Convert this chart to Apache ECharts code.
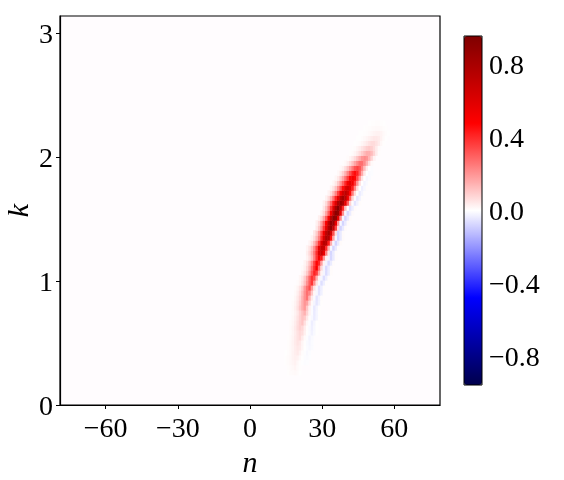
<!DOCTYPE html>
<html>
<head>
<meta charset="utf-8">
<style>
  html, body { margin: 0; padding: 0; background: #fff; }
  #main { width: 564px; height: 480px; }
</style>
<script src="https://cdn.jsdelivr.net/npm/echarts@6/dist/echarts.min.js"></script>
</head>
<body>
<div id="main"></div>
<script>
// tick labels
var nTicks = [-60, -30, 0, 30, 60];
var kTicks = [0, 1, 2, 3];
var barTicks = [-0.8, -0.4, 0, 0.4, 0.8];

// seismic colour map
var seismic = ['#00004c', '#0000ff', '#ffffff', '#ff0000', '#7f0000'];

// axis extents
var nMin = -79;
var nMax = 79;
var kMax = 3.14;
var barMax = 0.956;
var rowCount = 78;

// first row (counted from k=0) that has a value
var firstRow = 6;
// n of the first cell in each row
var rowStart = [
  16, 16, 15, 15, 15, 16, 16, 16, 17, 17,
  17, 18, 18, 18, 18, 18, 19, 19, 20, 21,
  22, 22, 23, 24, 24, 24, 25, 26, 27, 28,
  28, 29, 30, 31, 31, 32, 33, 34, 35, 36,
  37, 38, 39, 41, 42, 43, 44, 45, 46, 48,
  50
];
// cell values in each row, left to right
var rowValues = [
  [.004, .007, .01, .012, .007, .002],
  [.005, .01, .014, .018, .01, .003],
  [.004, .007, .013, .019, .024, .013, .004, -.002, -.006, -.003],
  [.003, .007, .013, .022, .029, .025, .011, .002, -.006, -.008, -.003],
  [.002, .006, .012, .022, .032, .04, .022, .006, -.004, -.012, -.006],
  [.005, .011, .02, .033, .043, .037, .017, .002, -.008, -.014, -.007],
  [.006, .012, .023, .037, .05, .043, .019, .003, -.009, -.016, -.008],
  [.004, .01, .02, .037, .054, .068, .037, .01, -.006, -.02, -.01],
  [.008, .018, .034, .054, .072, .062, .028, .004, -.01, -.024, -.012, .002],
  [.01, .021, .04, .065, .086, .074, .033, .005, -.012, -.028, -.014, .002],
  [.007, .017, .033, .06, .088, .11, .06, .017, -.006, -.032, -.016, .002],
  [.013, .028, .053, .085, .113, .098, .044, .006, -.014, -.035, -.018, .003],
  [.009, .022, .044, .08, .116, .145, .08, .022, -.007, -.038, -.019, .003],
  [.011, .029, .057, .105, .152, .19, .105, .029, -.008, -.042, -.021, .004],
  [.009, .022, .048, .092, .15, .198, .172, .077, .011, -.018, -.046, -.023, .004],
  [.005, .016, .039, .078, .143, .208, .26, .143, .039, -.01, -.05, -.025, .005],
  [.012, .03, .066, .126, .204, .27, .234, .105, .015, -.015, -.052, -.026, .005],
  [.007, .02, .051, .102, .187, .272, .34, .187, .051, -.012, -.056, -.028, .006],
  [.008, .023, .057, .114, .209, .304, .38, .209, .057, -.012, -.06, -.03, .006],
  [.017, .043, .095, .181, .292, .387, .335, .15, .022, -.016, -.064, -.032, .007],
  [.018, .046, .101, .193, .313, .414, .359, .161, .023, -.018, -.066, -.033, .007],
  [.01, .029, .074, .147, .27, .392, .49, .27, .074, -.018, -.07, -.035, .008],
  [.021, .052, .114, .218, .354, .468, .406, .182, .026, -.02, -.072, -.036, .008],
  [.022, .056, .123, .235, .381, .504, .437, .196, .028, -.02, -.074, -.037, .008],
  [.03, .072, .144, .252, .39, .6, .68, .55, .24, .048, -.076, -.038, .008],
  [.02, .053, .119, .211, .35, .57, .7, .68, .396, .145, -.015, -.078, -.039, .008],
  [.021, .057, .128, .227, .376, .6, .74, .72, .426, .156, -.016, -.08, -.04, .009],
  [.023, .061, .137, .243, .403, .63, .78, .76, .456, .167, -.017, -.08, -.04, .01],
  [.041, .098, .197, .344, .533, .722, .82, .656, .328, .066, -.08, -.04, .01],
  [.044, .106, .211, .37, .572, .774, .88, .704, .352, .07, -.08, -.04, .01],
  [.028, .074, .167, .298, .493, .716, .884, .856, .558, .205, -.015, -.08, -.04, .01],
  [.029, .077, .173, .307, .509, .739, .912, .883, .576, .211, -.015, -.075, -.037, .01],
  [.029, .077, .173, .307, .509, .739, .912, .883, .576, .211, -.015, -.07, -.035, .01],
  [.047, .112, .223, .391, .605, .818, .93, .74, .4, .12, 0, -.06, -.03, .01],
  [.026, .07, .157, .278, .435, .609, .783, .87, .783, .566, .305, .087, -.005, -.05, -.025, .008],
  [.025, .066, .148, .262, .41, .574, .738, .82, .738, .533, .287, .082, -.005, -.045, -.022, .006],
  [.022, .058, .13, .23, .36, .504, .648, .72, .648, .468, .252, .072, 0, -.035, -.018, .006],
  [.02, .052, .117, .208, .325, .455, .585, .65, .585, .423, .228, .065, 0, -.028, -.014, .005],
  [.017, .046, .104, .186, .29, .406, .522, .58, .522, .377, .203, .058, 0, -.02, -.01, .004],
  [.016, .042, .094, .166, .26, .364, .468, .52, .468, .338, .182, .052, 0, -.015, -.008],
  [.014, .037, .083, .147, .23, .322, .414, .46, .414, .299, .161, .046, 0, -.01, -.005],
  [.011, .029, .065, .115, .18, .252, .324, .36, .324, .234, .126, .036, 0, -.006],
  [.006, .014, .034, .067, .112, .168, .224, .269, .269, .218, .14, .062, .011],
  [.007, .018, .04, .07, .11, .154, .198, .22, .198, .143, .077, .022],
  [.003, .008, .019, .038, .064, .096, .128, .154, .154, .125, .08, .035, .006],
  [.003, .008, .018, .032, .05, .07, .09, .1, .09, .065, .035, .01],
  [.001, .004, .008, .017, .028, .042, .056, .067, .067, .055, .035, .015, .003],
  [.001, .002, .005, .011, .018, .027, .036, .043, .043, .035, .022, .01, .002],
  [.001, .001, .003, .006, .01, .015, .02, .024, .024, .02, .012, .006, .001],
  [.001, .003, .005, .007, .01, .012, .012, .009, .006, .003],
  [.002, .003, .004, .005, .005, .004, .002]
];

// category axes for the heatmap cells
var nCells = [];
for (var n = nMin; n <= nMax; n++) {
  nCells.push(n);
}
var kCells = [];
for (var r = 0; r < rowCount; r++) {
  kCells.push(r);
}

// [column, row, value] for the heatmap
var cells = [];
rowValues.forEach(function (values, i) {
  values.forEach(function (v, j) {
    cells.push([rowStart[i] + j - nMin, firstRow + i, v]);
  });
});

var font = 'Liberation Serif';

function minus(text) {
  return String(text).replace('-', '\u2212');
}

var myChart = echarts.init(document.getElementById('main'), null, { renderer: 'canvas' });

var option = {
  animation: false,
  backgroundColor: '#ffffff',
  grid: [
    // the cells
    { left: 60, top: 16, width: 380, height: 389, outerBoundsMode: 'none', show: true, backgroundColor: '#fffcfe', borderWidth: 0 },
    // frame, ticks and labels on top of the cells
    { left: 60, top: 16, width: 380, height: 389, outerBoundsMode: 'none', show: true, backgroundColor: 'transparent', borderColor: '#000', borderWidth: 1.2, z: 5 },
    // colour bar frame and ticks
    { left: 464, top: 36, width: 18, height: 349, outerBoundsMode: 'none', show: true, backgroundColor: 'transparent', borderColor: '#000', borderWidth: 1, z: 5 }
  ],
  xAxis: [
    { type: 'category', gridIndex: 0, data: nCells, show: false },
    {
      type: 'value', gridIndex: 1, min: nMin, max: nMax,
      name: 'n', nameLocation: 'middle', nameGap: 43,
      nameTextStyle: { fontFamily: font, fontStyle: 'italic', fontSize: 30, color: '#000' },
      splitLine: { show: false },
      axisLine: { show: true, onZero: false, lineStyle: { color: '#000', width: 1.2 } },
      axisTick: { show: true, length: 4, customValues: nTicks, lineStyle: { color: '#000', width: 1 } },
      axisLabel: { fontFamily: font, fontSize: 28, color: '#000', margin: 11, customValues: nTicks, formatter: minus }
    },
    { type: 'value', gridIndex: 2, min: 0, max: 1, show: false }
  ],
  yAxis: [
    { type: 'category', gridIndex: 0, data: kCells, show: false },
    {
      type: 'value', gridIndex: 1, min: 0, max: kMax,
      name: 'k', nameLocation: 'middle', nameGap: 25, nameRotate: 90, nameMoveOverlap: false,
      nameTextStyle: { fontFamily: font, fontStyle: 'italic', fontSize: 30, color: '#000' },
      splitLine: { show: false },
      axisLine: { show: true, onZero: false, lineStyle: { color: '#000', width: 1.2 } },
      axisTick: { show: true, length: 4, customValues: kTicks, lineStyle: { color: '#000', width: 1 } },
      // short line box so the digits sit a little under the tick, as in the original
      axisLabel: { fontFamily: font, fontSize: 28, color: '#000', margin: 7, verticalAlign: 'top', lineHeight: 5, customValues: kTicks }
    },
    {
      type: 'value', gridIndex: 2, min: -barMax, max: barMax, position: 'right',
      splitLine: { show: false },
      axisLine: { show: false },
      axisTick: { show: true, length: 4, customValues: barTicks, lineStyle: { color: '#000', width: 1 } },
      axisLabel: {
        fontFamily: font, fontSize: 28, color: '#000', margin: 7, verticalAlign: 'top', lineHeight: 5, customValues: barTicks,
        formatter: function (v) { return minus(v.toFixed(1)); }
      }
    }
  ],
  visualMap: {
    type: 'continuous',
    seriesIndex: 0,
    min: -barMax,
    max: barMax,
    left: 464,
    top: 36,
    padding: 0,
    itemWidth: 18,
    itemHeight: 349,
    calculable: false,
    hoverLink: false,
    z: 1,
    inRange: { color: seismic }
  },
  series: [{
    type: 'heatmap',
    xAxisIndex: 0,
    yAxisIndex: 0,
    data: cells,
    silent: true,
    progressive: 0
  }]
};

myChart.setOption(option);
</script>
</body>
</html>
